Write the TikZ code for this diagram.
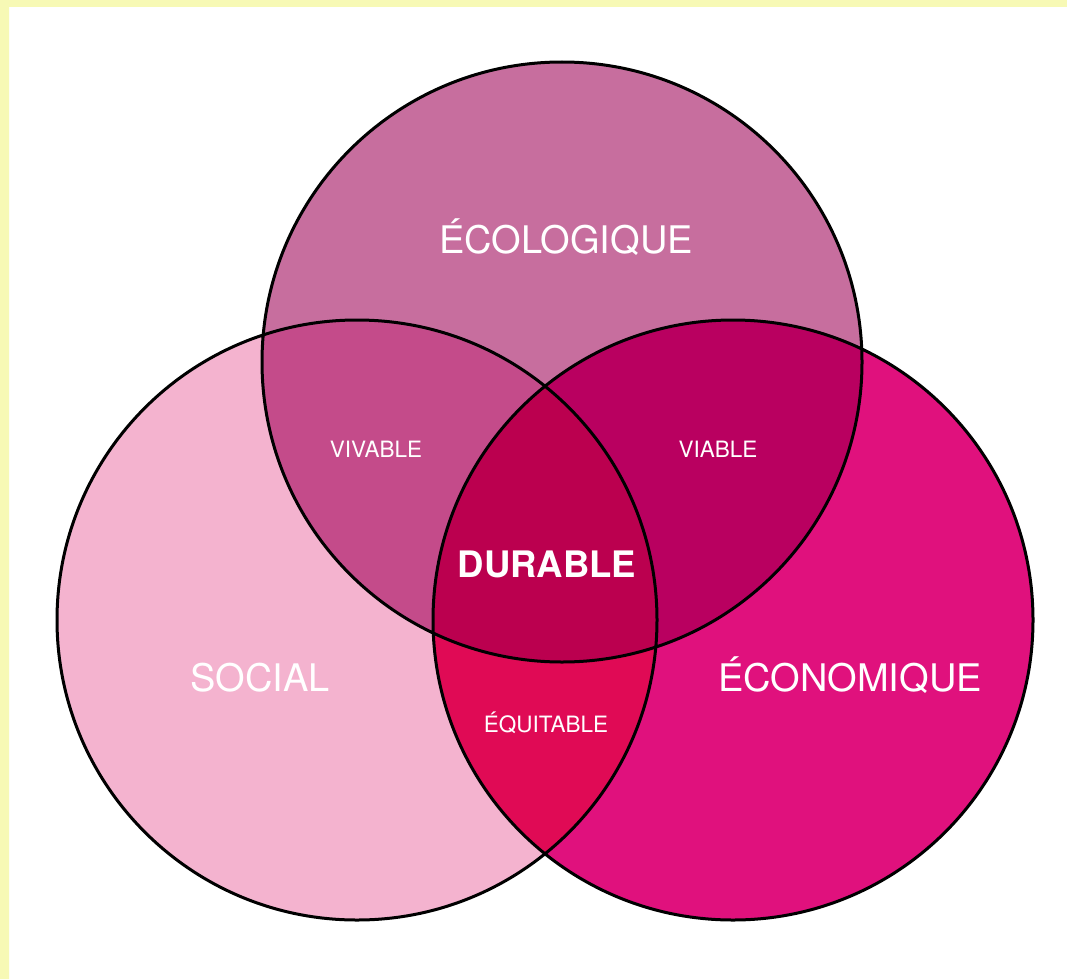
\documentclass[tikz,border=0pt]{standalone}
\usepackage{fontspec}
\setmainfont{TeX Gyre Heros}
\definecolor{frame}{HTML}{F7F9B5}
\definecolor{social}{HTML}{F4B3CF}
\definecolor{ecolo}{HTML}{C76E9E}
\definecolor{econo}{HTML}{E0117D}
\definecolor{vivable}{HTML}{C44B8A}
\definecolor{viable}{HTML}{B90060}
\definecolor{equitable}{HTML}{E00A55}
\definecolor{durable}{HTML}{BB004F}
\begin{document}
\begin{tikzpicture}[x=1pt,y=-1pt,
    big/.style={text=white,anchor=base,font=\fontsize{38}{40}\selectfont},
    small/.style={text=white,anchor=base,font=\fontsize{22.5}{24}\selectfont}]
    \useasboundingbox (0,0) rectangle (1067,979);
    \fill[white] (0,0) rectangle (1067,979);
    \fill[frame] (0,0) rectangle (1067,7) (0,0) rectangle (9,979);
    % the three circles
    \coordinate (E) at (562,362);
    \coordinate (S) at (357,620);
    \coordinate (C) at (733,620);
    \fill[social] (S) circle (300pt);
    \fill[econo] (C) circle (300pt);
    \fill[ecolo] (E) circle (300pt);
    % overlaps
    \begin{scope}
        \clip (S) circle (300pt);
        \fill[vivable] (E) circle (300pt);
        \fill[equitable] (C) circle (300pt);
    \end{scope}
    \begin{scope}
        \clip (C) circle (300pt);
        \fill[viable] (E) circle (300pt);
    \end{scope}
    \begin{scope}
        \clip (S) circle (300pt);
        \clip (C) circle (300pt);
        \fill[durable] (E) circle (300pt);
    \end{scope}
    \draw[line width=3pt] (S) circle (300pt) (C) circle (300pt) (E) circle (300pt);
    % labels
    \node[big] (ecolabel) at (566,253) {ÉCOLOGIQUE};
    \node[big] (soclabel) at (260,691) {SOCIAL};
    \node[big] (ecnlabel) at (850,691) {ÉCONOMIQUE};
    \node[big,font=\fontsize{36.5}{40}\selectfont\bfseries] (durlabel) at (547,577) {DURABLE};
    \node[small] (vivlabel) at (376,457) {VIVABLE};
    \node[small] (vialabel) at (718,457) {VIABLE};
    \node[small] (equlabel) at (546,732) {ÉQUITABLE};
\end{tikzpicture}
\end{document}
